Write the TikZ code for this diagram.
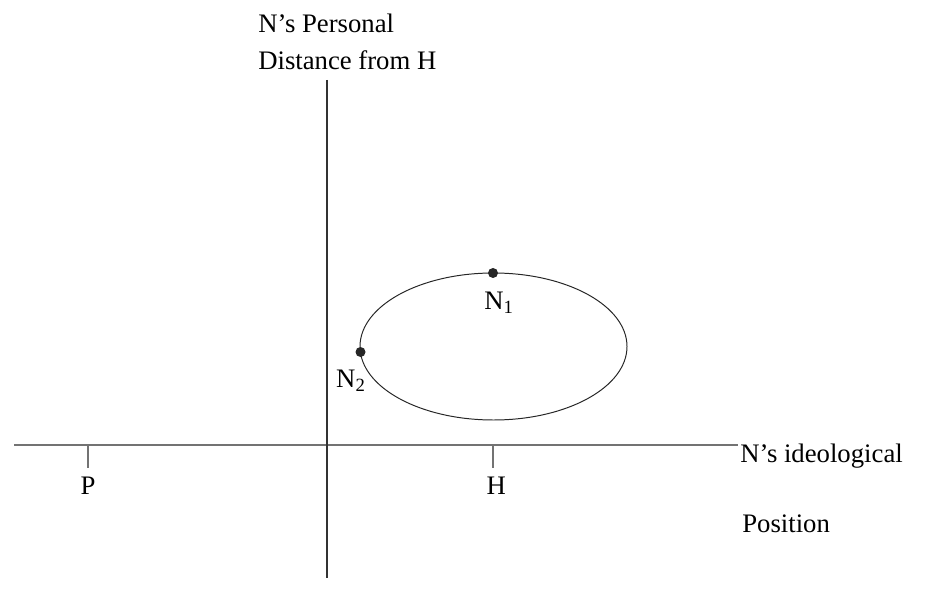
\documentclass[tikz,border=0pt]{standalone}
\usepackage{fontspec}
\setmainfont{Liberation Serif}
\usepackage{tikz}
\usetikzlibrary{positioning}
\tikzset{
  axisline/.style={line width=0.8pt, color=black!55},
  vaxis/.style={line width=0.8pt, color=black!80},
  curve/.style={line width=0.7pt, color=black!85},
  dot/.style={circle, fill=black!85, inner sep=0pt, minimum size=0.25cm},
  lbl/.style={font=\fontsize{19}{26}\selectfont, inner sep=0pt}
}

\begin{document}
\begin{tikzpicture}[x=0.025cm, y=-0.025cm]
  \useasboundingbox (0,0) rectangle (926,609);
  % Axes
  \coordinate (xl) at (14,445);
  \coordinate (xr) at (738,445);
  \coordinate (yt) at (327,80);
  \coordinate (yb) at (327,578);
  \draw[axisline] (xl) -- (xr);
  \draw[vaxis] (yt) -- (yb);
  % Axis labels
  \node[lbl, anchor=base west] (ylab1) at (258,33) {N’s Personal};
  \node[lbl, anchor=base west] (ylab2) at (258,70) {Distance from H};
  \node[lbl, anchor=base west] (xlab1) at (740,462) {N’s ideological};
  \node[lbl, anchor=base west] (xlab2) at (742,532) {Position};
  % Ticks
  \coordinate (tp) at (88,445);
  \coordinate (tpe) at (88,468);
  \coordinate (th) at (493,445);
  \coordinate (the) at (493,468);
  \draw[axisline] (tp) -- (tpe);
  \draw[axisline] (th) -- (the);
  \node[lbl, below=0.22cm of tpe] (p) {P};
  \node[lbl, below=0.22cm of the, xshift=0.08cm] (h) {H};
  % Ellipse
  \coordinate (ec) at (493.5,346.5);
  \draw[curve] (ec) ellipse [x radius=133.5, y radius=73.5];
  % Points
  \node[dot] (n1) at (493,273) {};
  \node[dot] (n2) at (360.5,352) {};
  \node[lbl, below=0.34cm of n1, xshift=0.15cm] (n1lab) {N\textsubscript{1}};
  \node[lbl, below=0.32cm of n2, xshift=-0.24cm] (n2lab) {N\textsubscript{2}};
\end{tikzpicture}
\end{document}
